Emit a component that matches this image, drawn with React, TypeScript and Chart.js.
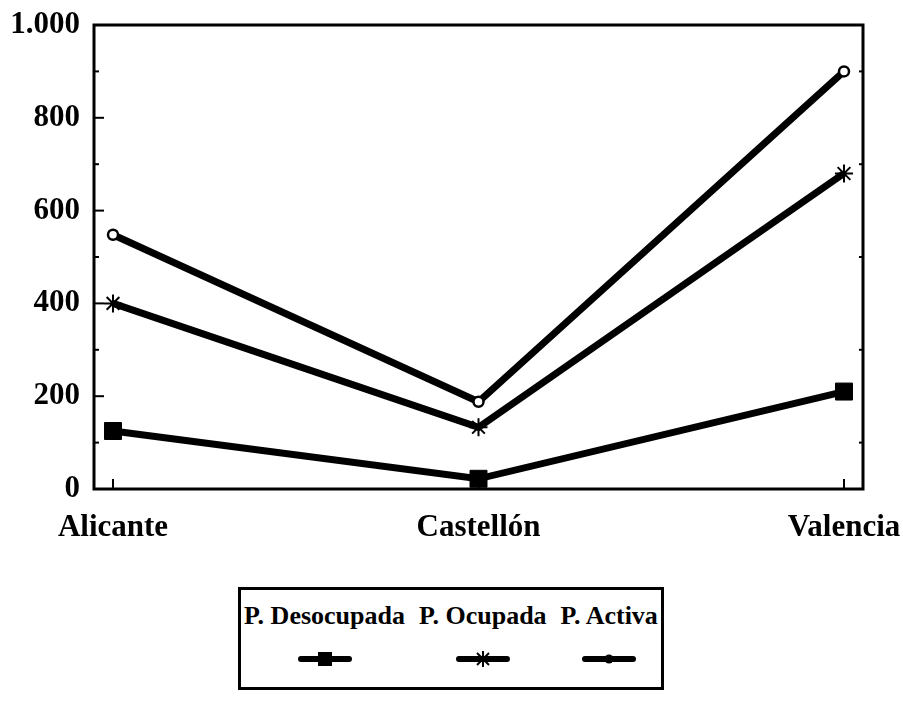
import React, { useEffect, useRef } from "react";
import { Chart, registerables } from "chart.js";

Chart.register(...registerables);

const categories = ["Alicante", "Castellón", "Valencia"];
const desocupada = [125, 22, 210];
const ocupada = [400, 133, 680];
const activa = [548, 188, 900];
const yTicks = [0, 200, 400, 600, 800, 1000];
const yMinorTicks = [100, 300, 500, 700, 900];
const legendLabels = ["P. Desocupada", "P. Ocupada", "P. Activa"];

const FONT = "'Liberation Serif', 'DejaVu Serif', serif";

const framePlugin = {
  id: "frame",
  afterDraw(chart: any) {
    const { ctx, chartArea } = chart;
    const { left, right, top, bottom } = chartArea;
    const ys = chart.scales.y;
    const xs = chart.scales.x;
    ctx.save();
    ctx.strokeStyle = "#000";
    ctx.lineWidth = 3;
    ctx.strokeRect(left, top, right - left, bottom - top);
    ctx.lineWidth = 2;
    yTicks.forEach((v) => {
      const py = ys.getPixelForValue(v);
      ctx.beginPath();
      ctx.moveTo(left, py);
      ctx.lineTo(left + 10, py);
      ctx.stroke();
    });
    yMinorTicks.forEach((v) => {
      const py = ys.getPixelForValue(v);
      ctx.beginPath();
      ctx.moveTo(left, py);
      ctx.lineTo(left + 5, py);
      ctx.stroke();
      ctx.beginPath();
      ctx.moveTo(right, py);
      ctx.lineTo(right - 4, py);
      ctx.stroke();
    });
    categories.forEach((_, i) => {
      const px = xs.getPixelForValue(i);
      ctx.beginPath();
      ctx.moveTo(px, bottom);
      ctx.lineTo(px, bottom - 10);
      ctx.stroke();
    });
    ctx.restore();
  },
};

function LegendMarker({ kind }: { kind: string }) {
  return (
    <svg width="54" height="20" viewBox="0 0 54 20" style={{ display: "block", margin: "0 auto" }}>
      <line x1="3" y1="10" x2="51" y2="10" stroke="#000" strokeWidth="6" strokeLinecap="round" />
      {kind === "rect" && <rect x="20" y="3" width="14" height="14" fill="#000" />}
      {kind === "star" && (
        <g stroke="#000" strokeWidth="2">
          <line x1="27" y1="2" x2="27" y2="18" />
          <line x1="21" y1="4" x2="33" y2="16" />
          <line x1="33" y1="4" x2="21" y2="16" />
        </g>
      )}
      {kind === "circle" && <circle cx="27" cy="10" r="4.5" fill="#000" />}
    </svg>
  );
}

export default function App() {
  const canvasRef = useRef<HTMLCanvasElement | null>(null);

  useEffect(() => {
    document.body.style.margin = "0";
    const canvas = canvasRef.current;
    if (!canvas) return;
    const mk = (arr: number[]) => arr.map((y, i) => ({ x: i, y }));
    const chart = new Chart(canvas, {
      type: "line",
      data: {
        datasets: [
          {
            label: legendLabels[0],
            data: mk(desocupada),
            borderColor: "#000",
            borderWidth: 7,
            pointStyle: "rect",
            pointRadius: 12,
            pointBackgroundColor: "#000",
            pointBorderColor: "#000",
            pointBorderWidth: 1,
            tension: 0,
          },
          {
            label: legendLabels[1],
            data: mk(ocupada),
            borderColor: "#000",
            borderWidth: 7,
            pointStyle: "star",
            pointRadius: 9,
            pointBackgroundColor: "#000",
            pointBorderColor: "#000",
            pointBorderWidth: 2,
            tension: 0,
          },
          {
            label: legendLabels[2],
            data: mk(activa),
            borderColor: "#000",
            borderWidth: 7,
            pointStyle: "circle",
            pointRadius: 5,
            pointBackgroundColor: "#fff",
            pointBorderColor: "#000",
            pointBorderWidth: 2.5,
            tension: 0,
          },
        ],
      },
      options: {
        animation: false,
        responsive: false,
        maintainAspectRatio: false,
        layout: { padding: { left: 0, top: 25, right: 40, bottom: 0 } },
        plugins: { legend: { display: false }, tooltip: { enabled: false } },
        scales: {
          x: {
            type: "linear",
            min: -0.052,
            max: 2.052,
            grid: { display: false, drawTicks: false },
            border: { display: false },
            afterBuildTicks: (axis: any) => {
              axis.ticks = categories.map((_, i) => ({ value: i }));
            },
            afterFit: (axis: any) => {
              axis.height = 71;
              axis.paddingLeft = 0;
              axis.paddingRight = 0;
            },
            ticks: {
              autoSkip: false,
              maxRotation: 0,
              padding: 20,
              color: "#000",
              font: { family: FONT, size: 31, weight: "bold" },
              callback: (v: any) => categories[v as number] ?? "",
            },
          },
          y: {
            min: 0,
            max: 1000,
            grid: { display: false, drawTicks: false },
            border: { display: false },
            afterBuildTicks: (axis: any) => {
              axis.ticks = yTicks.map((v) => ({ value: v }));
            },
            afterFit: (axis: any) => {
              axis.width = 94;
              axis.paddingTop = 0;
              axis.paddingBottom = 0;
            },
            ticks: {
              padding: 14,
              color: "#000",
              font: { family: FONT, size: 31, weight: "bold" },
              callback: (v: any) => (v === 1000 ? "1.000" : String(v)),
            },
          },
        },
      },
      plugins: [framePlugin],
    } as any);
    return () => chart.destroy();
  }, []);

  return (
    <div style={{ position: "relative", width: 903, height: 718, background: "#fff", fontFamily: FONT }}>
      <canvas ref={canvasRef} width={903} height={560} style={{ display: "block" }} />
      <div
        style={{
          position: "absolute",
          left: 238,
          top: 587,
          width: 426,
          height: 103,
          boxSizing: "border-box",
          border: "3px solid #000",
          display: "flex",
          justifyContent: "center",
          gap: 14,
          paddingTop: 11,
        }}
      >
        {legendLabels.map((lab, i) => (
          <div key={lab} style={{ textAlign: "center" }}>
            <div style={{ fontWeight: "bold", fontSize: 26, lineHeight: "30px", whiteSpace: "nowrap" }}>{lab}</div>
            <div style={{ marginTop: 18 }}>
              <LegendMarker kind={["rect", "star", "circle"][i]} />
            </div>
          </div>
        ))}
      </div>
    </div>
  );
}
